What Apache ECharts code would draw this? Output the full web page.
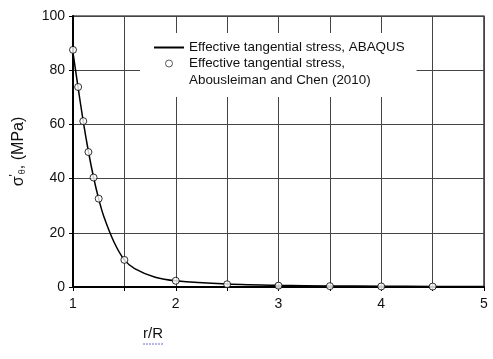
<!DOCTYPE html>
<html>
<head>
<meta charset="utf-8">
<script src="https://cdn.jsdelivr.net/npm/echarts@6/dist/echarts.min.js"></script>
<style>
  html, body { margin: 0; padding: 0; background: #fff; }
  #chart { width: 493px; height: 359px; }
</style>
</head>
<body>
<div id="chart"></div>
<script>
// ABAQUS curve (r/R, stress in MPa)
var abaqusR = [1, 1.05, 1.1, 1.15, 1.2, 1.25, 1.3, 1.4, 1.5, 1.6, 1.8, 2, 2.5, 3, 3.5, 4, 4.5, 5];
var abaqusS = [86.5, 73.5, 61, 50, 40.5, 32.5, 26, 16.5, 10, 6.8, 3.6, 2.3, 1.1, 0.6, 0.4, 0.3, 0.2, 0.15];

// Abousleiman and Chen (2010) points
var refR = [1, 1.05, 1.1, 1.15, 1.2, 1.25, 1.5, 2, 2.5, 3, 3.5, 4, 4.5];
var refS = [87.5, 73.8, 61.2, 49.8, 40.4, 32.6, 10, 2.3, 1.0, 0.5, 0.3, 0.2, 0.15];

var xTicks = [1, 2, 3, 4, 5];

var nameLine = 'Effective tangential stress, ABAQUS';
var nameRef = 'Effective tangential stress, Abousleiman and Chen (2010)';

var pair = function (xs, ys) {
    var res = [];
    for (var i = 0; i < xs.length; i++) {
        res.push([xs[i], ys[i]]);
    }
    return res;
};

var chart = echarts.init(document.getElementById('chart'));

var font = 'Liberation Sans, Arial, sans-serif';

var option = {
    backgroundColor: '#fff',
    animation: false,
    grid: {
        left: 73,
        right: 9,
        top: 16,
        bottom: 72,
        show: true,
        borderColor: '#000',
        borderWidth: 1.2
    },
    legend: {
        left: 140,
        top: 33,
        orient: 'vertical',
        backgroundColor: '#fff',
        padding: [8, 12, 27, 13],
        itemWidth: 30,
        itemHeight: 7,
        itemGap: 3,
        textStyle: { fontFamily: font, fontSize: 13.4, color: '#111' },
        formatter: function (name) {
            // second line of the reference entry is drawn below as its own text
            return name === nameRef ? 'Effective tangential stress,' : name;
        },
        data: [
            {
                name: nameLine,
                itemStyle: { color: 'rgba(0,0,0,0)', borderColor: 'rgba(0,0,0,0)' }
            },
            {
                name: nameRef,
                itemStyle: { color: '#fff', borderColor: '#000', borderWidth: 0.8 }
            }
        ]
    },
    xAxis: {
        type: 'value',
        min: 1,
        max: 5,
        interval: 0.5,
        axisLine: { lineStyle: { color: '#000', width: 2 } },
        axisTick: { show: true, inside: false, length: 4, lineStyle: { color: '#000' } },
        axisLabel: {
            color: '#111',
            fontFamily: font,
            fontSize: 14,
            margin: 10,
            formatter: function (v) {
                return xTicks.indexOf(v) >= 0 ? String(v) : '';
            }
        },
        splitLine: { show: true, lineStyle: { color: '#444', width: 1 } }
    },
    yAxis: {
        type: 'value',
        min: 0,
        max: 100,
        interval: 20,
        name: '{s|σ}{p|\'}{t|θ}{s|, (MPa)}',
        nameLocation: 'middle',
        nameGap: 44,
        nameTextStyle: {
            rich: {
                s: { fontFamily: font, fontSize: 16, color: '#111' },
                p: { fontFamily: font, fontSize: 12, color: '#111', padding: [0, 0, 8, 0] },
                t: { fontFamily: font, fontSize: 9, color: '#111', padding: [8, 0, 0, 0] }
            }
        },
        axisLine: { show: true, lineStyle: { color: '#000', width: 2 } },
        axisTick: { show: true, length: 4, lineStyle: { color: '#000' } },
        axisLabel: { color: '#111', fontFamily: font, fontSize: 14, margin: 8 },
        splitLine: { show: true, lineStyle: { color: '#444', width: 1 } }
    },
    graphic: [
        {
            type: 'text',
            left: 189,
            top: 74,
            z: 100,
            style: { text: 'Abousleiman and Chen (2010)', fontFamily: font, fontSize: 13.4, fill: '#111' }
        },
        {
            type: 'text',
            left: 143,
            top: 326,
            style: { text: 'r/R', fontFamily: font, fontSize: 15, fill: '#111' }
        },
        {
            type: 'line',
            shape: { x1: 143, y1: 344, x2: 164, y2: 344 },
            style: { stroke: '#6a6ad8', lineWidth: 1, lineDash: [2, 1] }
        }
    ],
    series: [
        {
            name: nameLine,
            type: 'line',
            smooth: 0.3,
            symbol: 'none',
            lineStyle: { color: '#000', width: 1.5 },
            itemStyle: { color: '#000' },
            z: 2,
            data: pair(abaqusR, abaqusS)
        },
        {
            name: nameRef,
            type: 'scatter',
            symbol: 'circle',
            symbolSize: 7,
            itemStyle: { color: '#fff', borderColor: '#000', borderWidth: 1 },
            z: 3,
            data: pair(refR, refS)
        }
    ]
};

chart.setOption(option);
</script>
</body>
</html>
